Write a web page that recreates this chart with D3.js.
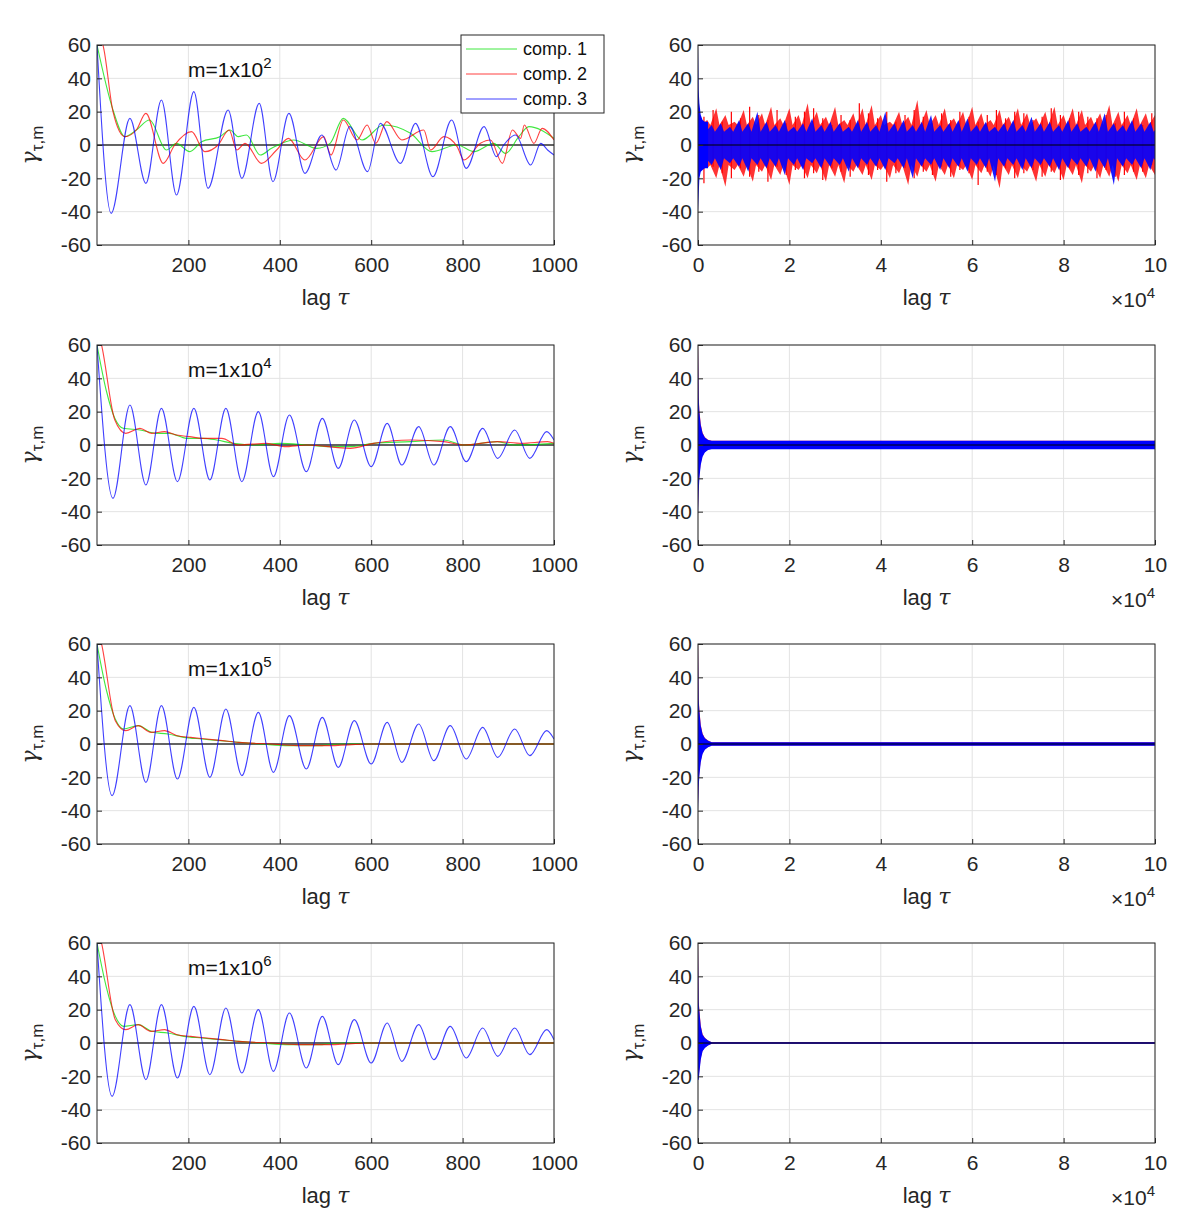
<!DOCTYPE html>
<html><head><meta charset="utf-8">
<script src="https://cdn.jsdelivr.net/npm/d3@7"></script>
<style>body{margin:0;background:#fff}text{font-family:"Liberation Sans",Arial,sans-serif}</style>
</head><body><svg id="c" width="1200" height="1228"></svg>
<script>
// ---- data ----
let mLabels = ['2', '4', '5', '6'];
let leftTicks = [200, 400, 600, 800, 1000];
let yTicks = [-60, -40, -20, 0, 20, 40, 60];
let rightTicks = [0, 20000, 40000, 60000, 80000, 100000];

// comp. 3 (blue) extrema, [lag, value]
let blue1 = [[0,60],[31,-41],[72,16],[107,-23],[141,27],[174,-30],[212,32],[243,-26],[287,21],[317,-20],[355,25],[385,-22],[420,19],[455,-17],[492,6],[523,-15],[553,11],[592,-16],[620,13],[664,-11],[697,13],[735,-19],[776,15],[808,-14],[847,11],[874,-7],[890,0],[916,6],[949,-12],[971,1],[986,-3],[1000,-6]];
let blue2 = [[0,60],[35,-32],[72,24],[107,-24],[141,22],[176,-22],[212,22],[247,-21],[282,22],[317,-22],[353,20],[386,-19],[421,18],[458,-16],[493,16],[528,-14],[563,15],[600,-13],[635,13],[667,-12],[704,11],[737,-12],[773,11],[808,-10],[844,10],[877,-8],[914,9],[947,-8],[984,8],[1000,3]];
let blue3 = [[0,60],[33,-31],[72,23],[107,-23],[141,23],[176,-21],[212,22],[247,-20],[282,21],[317,-19],[353,19],[386,-17],[421,17],[458,-15],[493,16],[528,-14],[563,14],[600,-12],[635,13],[667,-11],[704,12],[737,-10],[773,11],[808,-9],[844,10],[877,-8],[914,9],[947,-7],[984,8],[1000,3]];
let blue4 = [[0,60],[33,-32],[72,23],[107,-22],[141,23],[176,-21],[212,22],[247,-19],[282,21],[317,-18],[353,20],[386,-17],[421,18],[458,-15],[493,16],[528,-13],[563,14],[600,-12],[635,12],[667,-11],[704,11],[737,-10],[773,10],[808,-9],[844,9],[877,-8],[914,9],[947,-7],[984,8],[1000,2]];

// comp. 1 (green)
let green1 = [[0,60],[35,21],[61,5],[86,9],[115,15],[152,-3],[174,1],[203,-4],[229,2],[269,5],[291,9],[309,5],[327,6],[357,-6],[382,-2],[430,3],[481,-2],[510,1],[539,16],[580,3],[627,12],[686,7],[733,-4],[788,0],[825,-4],[868,1],[894,-5],[923,5],[945,11],[1000,4]];
let green2 = [[0,60],[20,33],[39,16],[57,10],[94,9],[130,7],[159,7],[196,4],[232,4],[262,3],[298,1],[350,0],[400,1],[459,0],[510,-1],[554,-1],[605,1],[686,2],[759,3],[803,0],[876,2],[912,0],[1000,1]];
let green3 = [[0,60],[20,33],[40,15],[58,9],[90,11],[120,7],[155,6],[190,4],[230,3],[270,2],[310,1],[360,0],[420,-1],[480,-1],[540,0],[600,0],[700,0],[800,0],[1000,0]];
let green4 = [[0,60],[20,34],[40,16],[58,10],[90,11],[120,7],[155,6],[190,4],[230,3],[270,2],[310,1],[360,0],[420,-1],[480,-1],[540,0],[600,0],[700,0],[800,0],[1000,0]];

// comp. 2 (red)
let red1 = [[0,66],[13,60],[35,20],[61,5],[86,9],[107,19],[145,-11],[170,0],[207,8],[236,-4],[265,0],[289,9],[306,-3],[324,1],[360,-11],[393,-3],[419,4],[455,-9],[496,5],[512,-6],[539,15],[569,3],[591,12],[610,1],[634,14],[667,3],[715,9],[730,-3],[759,5],[788,-1],[803,-9],[839,1],[861,3],[887,-11],[909,9],[927,4],[935,12],[956,1],[974,10],[1000,3]];
let red2 = [[0,70],[10,60],[39,15],[63,7],[94,10],[119,7],[148,8],[174,6],[203,5],[232,4],[273,4],[309,0],[371,1],[410,-1],[459,0],[554,-2],[605,1],[686,3],[759,2],[803,0],[876,2],[930,1],[986,2],[1000,1]];
let red3 = [[0,70],[10,60],[40,14],[63,8],[90,11],[118,7],[148,8],[175,5],[205,4],[240,3],[275,2],[310,1],[380,0],[450,-1],[500,-1],[600,0],[1000,0]];
let red4 = [[0,70],[10,60],[40,14],[63,8],[90,11],[118,7],[148,8],[175,5],[205,4],[240,3],[275,2],[310,1],[380,0],[450,-1],[500,-1],[600,0],[1000,0]];

// right panels: noise envelopes, one value per 2000 lags (0..100000)
let redHi1 = [20,15,22,18,14,21,17,19,23,16,22,18,25,20,17,23,15,19,22,24,18,14,20,17,27,21,18,22,16,20,23,19,15,21,17,22,19,16,20,23,18,22,21,17,19,24,20,18,22,19,18];
let redLo1 = [-18,-14,-20,-25,-15,-19,-22,-16,-21,-18,-24,-15,-20,-17,-22,-19,-23,-16,-18,-21,-15,-20,-17,-24,-19,-16,-22,-18,-20,-15,-21,-17,-19,-26,-18,-20,-16,-22,-19,-17,-21,-18,-23,-16,-20,-19,-22,-17,-21,-20,-18];
let blueHi1 = [14,12,13,11,15,13,20,14,12,15,11,13,16,12,14,13,11,15,14,12,20,13,15,12,14,18,12,13,15,16,12,14,11,13,15,12,17,13,14,12,15,13,11,14,19,13,12,15,13,14,12];
let blueLo1 = [-14,-12,-15,-11,-13,-16,-12,-14,-13,-18,-12,-15,-11,-14,-13,-12,-16,-14,-12,-13,-15,-11,-14,-20,-13,-12,-15,-14,-13,-16,-12,-14,-22,-13,-12,-15,-14,-12,-13,-15,-14,-12,-13,-16,-14,-24,-13,-12,-14,-15,-13];
let bandHi = [2.5, 1, 0.4];   // panels 2..4 half-width after the start
// start of the right panels, lags 0..4000
let startX = [0, 150, 300, 600, 1000, 1500, 2200, 3000, 4000];
let startHi2 = [60, 28, 20, 12, 7, 4.5, 3, 2.5, 2.5];
let startLo2 = [-42, -28, -20, -12, -7, -4.5, -3, -2.5, -2.5];
let startHi3 = [60, 26, 20, 11, 6, 3.5, 2, 1, 1];
let startLo3 = [-40, -26, -19, -11, -6, -3.5, -2, -1, -1];
let startHi4 = [60, 24, 19, 10, 5, 3, 1.5, 0.5, 0.4];
let startLo4 = [-22, -22, -18, -10, -5, -3, -1.5, -0.5, -0.4];
let startHi1 = [60, 33, 25, 18, 15, 14, 14];
let startLo1 = [-40, -30, -20, -16, -15, -14, -14];

// ---- layout ----
let svg = d3.select('#c');
let tops = [45, 345, 644, 943];
let ph = 200;
let leftX = [97, 554], rightX = [698, 1155];
let cols = {g: '#00e000', r: '#ff0000', b: '#0000ff'};

let drawFrame = (x, y, xticks) => {
    let g = svg.append('g');
    g.selectAll('.vg').data(xticks).enter().append('line')
        .attr('x1', d => x(d)).attr('x2', d => x(d))
        .attr('y1', y.range()[0]).attr('y2', y.range()[1]).attr('stroke', '#e3e3e3');
    g.selectAll('.hg').data(yTicks).enter().append('line')
        .attr('x1', x.range()[0]).attr('x2', x.range()[1])
        .attr('y1', d => y(d)).attr('y2', d => y(d)).attr('stroke', '#e3e3e3');
};

let drawAxes = (x, y, xticks, fmt) => {
    let xa = d3.axisBottom(x).tickValues(xticks).tickFormat(fmt).tickSizeInner(-5).tickSizeOuter(0).tickPadding(12);
    let ya = d3.axisLeft(y).tickValues(yTicks).tickFormat(d => String(d)).tickSizeInner(-5).tickSizeOuter(0).tickPadding(6);
    let gx = svg.append('g').attr('transform', 'translate(0,' + y.range()[0] + ')').call(xa);
    let gy = svg.append('g').attr('transform', 'translate(' + x.range()[0] + ',0)').call(ya);
    [gx, gy].forEach(a => {
        a.selectAll('text').attr('font-size', 21).attr('fill', '#262626');
        a.selectAll('line').attr('stroke', '#262626');
        a.select('.domain').remove();
    });
    svg.append('rect').attr('x', x.range()[0]).attr('y', y.range()[1])
        .attr('width', x.range()[1] - x.range()[0]).attr('height', ph)
        .attr('fill', 'none').attr('stroke', '#262626');
    let cx = (x.range()[0] + x.range()[1]) / 2;
    let t = svg.append('text').attr('x', cx).attr('y', y.range()[0] + 60)
        .attr('text-anchor', 'middle').attr('font-size', 22).attr('fill', '#262626');
    t.append('tspan').text('lag ');
    t.append('tspan').attr('font-style', 'italic').attr('font-family', 'DejaVu Serif').text('τ');
    let yl = svg.append('text').attr('transform', 'translate(' + (x.range()[0] - 60) + ',' + (y.range()[1] + 100) + ') rotate(-90)')
        .attr('text-anchor', 'middle').attr('font-size', 22).attr('fill', '#262626');
    yl.append('tspan').attr('font-family', 'DejaVu Serif').attr('font-style', 'italic').text('γ');
    yl.append('tspan').attr('font-size', 17).attr('dy', 6).text('τ,m');
};

let smoothLine = (x, y) => d3.line().x(d => x(d[0])).y(d => y(d[1])).curve(d3.curveMonotoneX);
let lefts = [[green1, red1, blue1], [green2, red2, blue2], [green3, red3, blue3], [green4, red4, blue4]];

tops.forEach((top, i) => {
    let y = d3.scaleLinear().domain([-60, 60]).range([top + ph, top]);
    // left panel
    let x = d3.scaleLinear().domain([0, 1000]).range(leftX);
    drawFrame(x, y, leftTicks);
    let clipId = 'cl' + i;
    svg.append('clipPath').attr('id', clipId).append('rect')
        .attr('x', leftX[0]).attr('y', top).attr('width', leftX[1] - leftX[0]).attr('height', ph);
    let lg = svg.append('g').attr('clip-path', 'url(#' + clipId + ')');
    lg.append('line').attr('x1', leftX[0]).attr('x2', leftX[1]).attr('y1', y(0)).attr('y2', y(0)).attr('stroke', '#333').attr('stroke-width', 1.3);
    let ln = smoothLine(x, y);
    [cols.g, cols.r, cols.b].forEach((c, k) => {
        lg.append('path').datum(lefts[i][k]).attr('d', ln).attr('fill', 'none')
            .attr('stroke', c).attr('stroke-opacity', 0.75).attr('stroke-width', 1.1);
    });
    drawAxes(x, y, leftTicks, d3.format('d'));
    let mt = svg.append('text').attr('x', 188).attr('y', top + 32).attr('font-size', 21).attr('fill', '#111');
    mt.append('tspan').text('m=1x10');
    mt.append('tspan').attr('dy', -9).attr('font-size', 15).text(mLabels[i]);

    // right panel
    let xr = d3.scaleLinear().domain([0, 100000]).range(rightX);
    drawFrame(xr, y, rightTicks);
    let rc = 'cr' + i;
    svg.append('clipPath').attr('id', rc).append('rect')
        .attr('x', rightX[0]).attr('y', top).attr('width', rightX[1] - rightX[0]).attr('height', ph);
    let rg = svg.append('g').attr('clip-path', 'url(#' + rc + ')');
    let area = d3.area().x(d => xr(d[0])).y0(d => y(d[1])).y1(d => y(d[2]));
    if (i === 0) {
        let bins = redHi1.map((v, j) => j * 2000);
        let redPts = [];
        bins.forEach((b, j) => {
            redPts.push([b, redLo1[j], redHi1[j]]);
            redPts.push([b + 700, -12, 12]);
        });
        let bluePts = [];
        bins.forEach((b, j) => {
            bluePts.push([b + 1000, blueLo1[j], blueHi1[j]]);
            bluePts.push([b + 1700, -8, 8]);
        });
        rg.append('path').datum(redPts).attr('d', area).attr('fill', cols.r).attr('fill-opacity', 0.8);
        rg.selectAll('.rs').data(bins).enter().append('line')
            .attr('x1', d => xr(d + 1300)).attr('x2', d => xr(d + 1300))
            .attr('y1', (d, j) => y(redHi1[(j + 7) % redHi1.length] - 2)).attr('y2', (d, j) => y(redLo1[(j + 3) % redLo1.length] + 2))
            .attr('stroke', cols.r).attr('stroke-width', 1.2);
        rg.append('path').datum(bluePts).attr('d', area).attr('fill', cols.b).attr('fill-opacity', 0.9);
        rg.append('path').datum(startHi1.map((v, j) => [startX[j], startLo1[j], v])).attr('d', area).attr('fill', cols.b);
    } else {
        let sh = [startHi2, startHi3, startHi4][i - 1];
        let sl = [startLo2, startLo3, startLo4][i - 1];
        let bh = bandHi[i - 1];
        let pts = sh.map((v, j) => [startX[j], sl[j], v]);
        pts.push([100000, -bh, bh]);
        rg.append('path').datum(pts.map(p => [p[0], p[1] * 0.9, p[2] * 1.05])).attr('d', area).attr('fill', cols.r).attr('fill-opacity', 0.8);
        rg.append('path').datum(pts).attr('d', area).attr('fill', cols.b);
    }
    rg.append('line').attr('x1', rightX[0]).attr('x2', rightX[1]).attr('y1', y(0)).attr('y2', y(0)).attr('stroke', '#000').attr('stroke-width', 1.2);
    drawAxes(xr, y, rightTicks, d => d / 10000);
    let ex = svg.append('text').attr('x', rightX[1]).attr('y', top + ph + 62).attr('text-anchor', 'end')
        .attr('font-size', 21).attr('fill', '#262626');
    ex.append('tspan').text('×10');
    ex.append('tspan').attr('dy', -9).attr('font-size', 15).text('4');
});

// legend
let legNames = ['comp. 1', 'comp. 2', 'comp. 3'];
let leg = svg.append('g').attr('transform', 'translate(461,35)');
leg.append('rect').attr('width', 143).attr('height', 78).attr('fill', '#fff').attr('stroke', '#262626');
legNames.forEach((n, k) => {
    let yy = 14 + k * 25;
    leg.append('line').attr('x1', 5).attr('x2', 56).attr('y1', yy).attr('y2', yy)
        .attr('stroke', [cols.g, cols.r, cols.b][k]).attr('stroke-opacity', 0.75);
    leg.append('text').attr('x', 62).attr('y', yy + 6).attr('font-size', 18).attr('fill', '#111').text(n);
});
</script></body></html>
